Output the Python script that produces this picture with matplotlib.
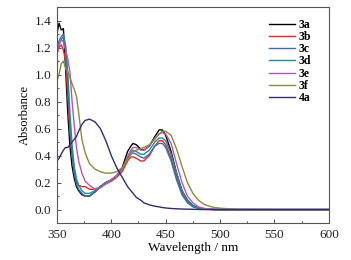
import matplotlib
matplotlib.use('Agg')
import matplotlib.pyplot as plt
from matplotlib.ticker import MultipleLocator

plt.rcParams['font.family'] = ['Liberation Serif', 'DejaVu Serif']

wavelength = [350, 352, 354, 356, 358, 360, 362, 364, 366, 368, 370, 373, 376, 380,
              385, 390, 395, 400, 405, 410, 415, 418, 420, 423, 427, 430, 435, 440,
              444, 447, 450, 455, 460, 465, 470, 475, 480, 485, 490, 495, 500, 510,
              520, 550, 600]

abs_3a = [1.30, 1.38, 1.33, 1.34, 1.05, 0.72, 0.47, 0.32, 0.23, 0.17, 0.14, 0.11, 0.10, 0.10,
          0.13, 0.17, 0.20, 0.22, 0.25, 0.31, 0.43, 0.47, 0.49, 0.48, 0.45, 0.44, 0.47, 0.54,
          0.59, 0.59, 0.55, 0.43, 0.27, 0.14, 0.07, 0.03, 0.012, 0.005, 0.002, 0.001, 0.0, 0.0,
          0.0, 0.0, 0.0]
abs_3b = [1.15, 1.20, 1.22, 1.18, 1.10, 0.85, 0.58, 0.40, 0.28, 0.21, 0.18, 0.17, 0.17, 0.15,
          0.15, 0.17, 0.19, 0.21, 0.24, 0.28, 0.36, 0.39, 0.39, 0.38, 0.36, 0.36, 0.40, 0.47,
          0.51, 0.51, 0.48, 0.38, 0.24, 0.12, 0.06, 0.03, 0.01, 0.005, 0.002, 0.0, 0.0, 0.0,
          0.0, 0.0, 0.0]
abs_3c = [1.20, 1.25, 1.28, 1.30, 1.20, 0.95, 0.62, 0.40, 0.27, 0.19, 0.15, 0.12, 0.10, 0.10,
          0.13, 0.17, 0.20, 0.22, 0.25, 0.30, 0.38, 0.41, 0.42, 0.41, 0.39, 0.38, 0.41, 0.47,
          0.49, 0.49, 0.46, 0.36, 0.22, 0.11, 0.05, 0.02, 0.008, 0.003, 0.001, 0.0, 0.0, 0.0,
          0.0, 0.0, 0.0]
abs_3d = [1.18, 1.22, 1.26, 1.28, 1.22, 1.02, 0.72, 0.48, 0.32, 0.23, 0.18, 0.14, 0.12, 0.12,
          0.14, 0.17, 0.20, 0.22, 0.25, 0.30, 0.39, 0.43, 0.44, 0.43, 0.41, 0.41, 0.44, 0.50,
          0.53, 0.53, 0.51, 0.41, 0.27, 0.14, 0.07, 0.03, 0.01, 0.005, 0.002, 0.0, 0.0, 0.0,
          0.0, 0.0, 0.0]
abs_3e = [1.15, 1.22, 1.26, 1.24, 1.18, 1.12, 1.02, 0.80, 0.62, 0.46, 0.36, 0.27, 0.21, 0.18,
          0.15, 0.16, 0.19, 0.22, 0.25, 0.30, 0.39, 0.44, 0.46, 0.46, 0.44, 0.44, 0.47, 0.53,
          0.56, 0.57, 0.56, 0.49, 0.34, 0.20, 0.10, 0.05, 0.02, 0.01, 0.004, 0.002, 0.001, 0.0,
          0.0, 0.0, 0.0]
abs_3f = [0.95, 1.00, 1.08, 1.10, 1.05, 1.02, 0.98, 0.93, 0.89, 0.84, 0.72, 0.52, 0.42, 0.34,
          0.30, 0.28, 0.27, 0.27, 0.28, 0.31, 0.37, 0.41, 0.43, 0.44, 0.45, 0.46, 0.48, 0.52,
          0.56, 0.58, 0.58, 0.55, 0.45, 0.32, 0.20, 0.12, 0.07, 0.04, 0.025, 0.015, 0.01, 0.005,
          0.002, 0.0, 0.0]
abs_4a = [0.36, 0.38, 0.41, 0.44, 0.46, 0.46, 0.48, 0.50, 0.52, 0.54, 0.58, 0.63, 0.66, 0.67,
          0.65, 0.60, 0.51, 0.40, 0.31, 0.24, 0.17, 0.14, 0.12, 0.09, 0.07, 0.05, 0.035, 0.025,
          0.02, 0.015, 0.012, 0.008, 0.006, 0.004, 0.003, 0.002, 0.001, 0.0, 0.0, 0.0, 0.0, 0.0,
          0.0, 0.0, 0.0]

labels = ['3a', '3b', '3c', '3d', '3e', '3f', '4a']
series = [abs_3a, abs_3b, abs_3c, abs_3d, abs_3e, abs_3f, abs_4a]
colors = ['#000000', '#e8262a', '#3b6cb3', '#1f8f88', '#b455b8', '#8c8a3c', '#2f2d6e']

fig = plt.figure(figsize=(3.51, 2.60), dpi=100)
ax = fig.add_axes([0.162, 0.142, 0.775, 0.831])

for y, lab, c in zip(series, labels, colors):
    ax.plot(wavelength, y, color=c, lw=1.0, label=lab)

ax.set_xlim(350, 600)
ax.set_ylim(-0.1, 1.5)
ax.xaxis.set_major_locator(MultipleLocator(50))
ax.xaxis.set_minor_locator(MultipleLocator(25))
ax.yaxis.set_major_locator(MultipleLocator(0.2))
ax.yaxis.set_minor_locator(MultipleLocator(0.1))
ax.yaxis.set_major_formatter(plt.FormatStrFormatter('%.1f'))
ax.tick_params(which='major', direction='in', length=3, width=0.6, labelsize=9.5,
               colors='#333333', pad=4)
ax.tick_params(which='minor', direction='in', length=1.5, width=0.6, colors='#333333')
ax.tick_params(labelcolor='#222222')
for s in ax.spines.values():
    s.set_color('#555555')
    s.set_linewidth(0.8)

ax.set_xlabel('Wavelength / nm', fontsize=9.5, labelpad=1)
ax.set_ylabel('Absorbance', fontsize=9, labelpad=3)

leg = ax.legend(loc='upper right', bbox_to_anchor=(0.975, 0.995), frameon=False,
                handlelength=2.2, handletextpad=0.35, labelspacing=0.02,
                prop={'size': 8.5, 'weight': 'bold'})

fig.savefig('out.png', dpi=100)
